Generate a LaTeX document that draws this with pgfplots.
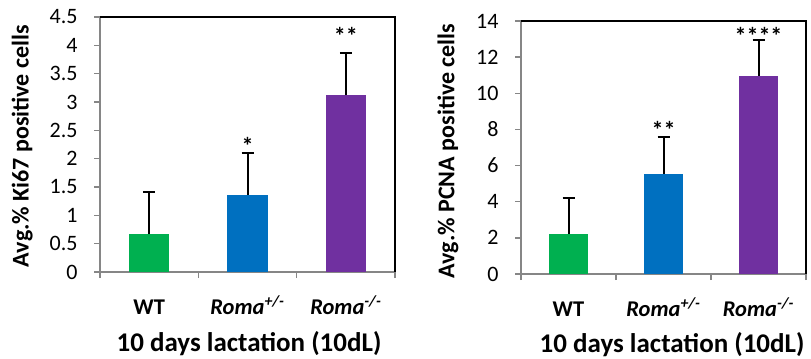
\documentclass[border=0pt]{standalone}
\usepackage{fontspec}
\setmainfont{Carlito}
\usepackage{pgfplots}
\pgfplotsset{compat=1.18}
\definecolor{xgreen}{HTML}{00B050}
\definecolor{xblue}{HTML}{0070C0}
\definecolor{xpurple}{HTML}{7030A0}
\definecolor{axisgray}{HTML}{868686}
\tikzset{starlbl/.style={font=\bfseries\fontsize{24bp}{26bp}\selectfont, anchor=center}}
\pgfplotsset{
  mystyle/.style={
    scale only axis,
    anchor=south west,
    clip=false,
    xmin=-0.5, xmax=2.5, ymin=0,
    axis x line*=bottom, axis y line*=left,
    axis line style={-, draw=axisgray, line width=1.5bp},
    tick align=outside,
    xtick={-0.5,0.5,1.5,2.5}, xticklabels={},
    major tick length=6bp,
    tick style={draw=axisgray, line width=1.5bp},
    extra x ticks={0,1,2},
    extra x tick labels={\textbf{WT}, \textbf{\textit{Roma\textsuperscript{+/-}}}, \textbf{\textit{Roma\textsuperscript{-/-}}}},
    extra x tick style={major tick length=0pt, tick style={draw=none}},
    xticklabel style={font=\fontsize{22.5bp}{25bp}\selectfont, anchor=base, yshift=-42bp},
    yticklabel style={font=\fontsize{22bp}{24bp}\selectfont, anchor=east, xshift=-13bp},
    /pgf/number format/assume math mode=true,
    ylabel style={font=\bfseries\fontsize{24bp}{27bp}\selectfont, anchor=center},
    xlabel style={font=\bfseries\fontsize{27bp}{30bp}\selectfont, anchor=center},
  },
  mybar/.style={ybar, bar width=0.41, bar shift=0pt, fill=#1, draw=none,
    error bars/.cd, y dir=plus, y explicit,
    error bar style={line width=2bp, black},
    error mark options={rotate=90, mark size=6bp, line width=2bp, black}},
}
\begin{document}
\begin{tikzpicture}
\begin{axis}[mystyle,
  at={(100bp,87bp)}, width=295bp, height=255bp,
  ymax=4.5, ytick={0,0.5,1,1.5,2,2.5,3,3.5,4,4.5},
  ylabel={Avg.\% Ki67 positive cells},
  ylabel style={at={(axis description cs:-0.264,0.494)}},
  xlabel={10 days lactation (10dL)},
  xlabel style={at={(axis description cs:0.505,-0.28)}},
]
\addplot[mybar=xgreen] coordinates {(0,0.67) +- (0,0.74)};
\addplot[mybar=xblue] coordinates {(1,1.36) +- (0,0.735)};
\addplot[mybar=xpurple] coordinates {(2,3.12) +- (0,0.74)};
\node[starlbl] at (axis cs:1,2.22) {*};
\node[starlbl] at (axis cs:2,4.17) {**};
\draw[black, line width=1.5bp] (rel axis cs:0,1) -- (rel axis cs:1,1) -- (rel axis cs:1,0);
\end{axis}
\begin{axis}[mystyle,
  at={(521bp,85bp)}, width=285bp, height=253bp,
  ymax=14, ytick={0,2,4,6,8,10,12,14},
  ylabel={Avg.\% PCNA positive cells},
  ylabel style={at={(axis description cs:-0.256,0.486)}},
  xlabel={10 days lactation (10dL)},
  xlabel style={at={(axis description cs:0.53,-0.279)}},
]
\addplot[mybar=xgreen] coordinates {(0,2.22) +- (0,2.0)};
\addplot[mybar=xblue] coordinates {(1,5.55) +- (0,2.04)};
\addplot[mybar=xpurple] coordinates {(2,10.97) +- (0,2.0)};
\node[starlbl] at (axis cs:1,7.95) {**};
\node[starlbl] at (axis cs:2,13.2) {****};
\draw[black, line width=1.5bp] (rel axis cs:0,1) -- (rel axis cs:1,1) -- (rel axis cs:1,0);
\end{axis}
\pgfresetboundingbox
\path[use as bounding box] (0,0) rectangle (811bp,359bp);
\end{tikzpicture}
\end{document}
